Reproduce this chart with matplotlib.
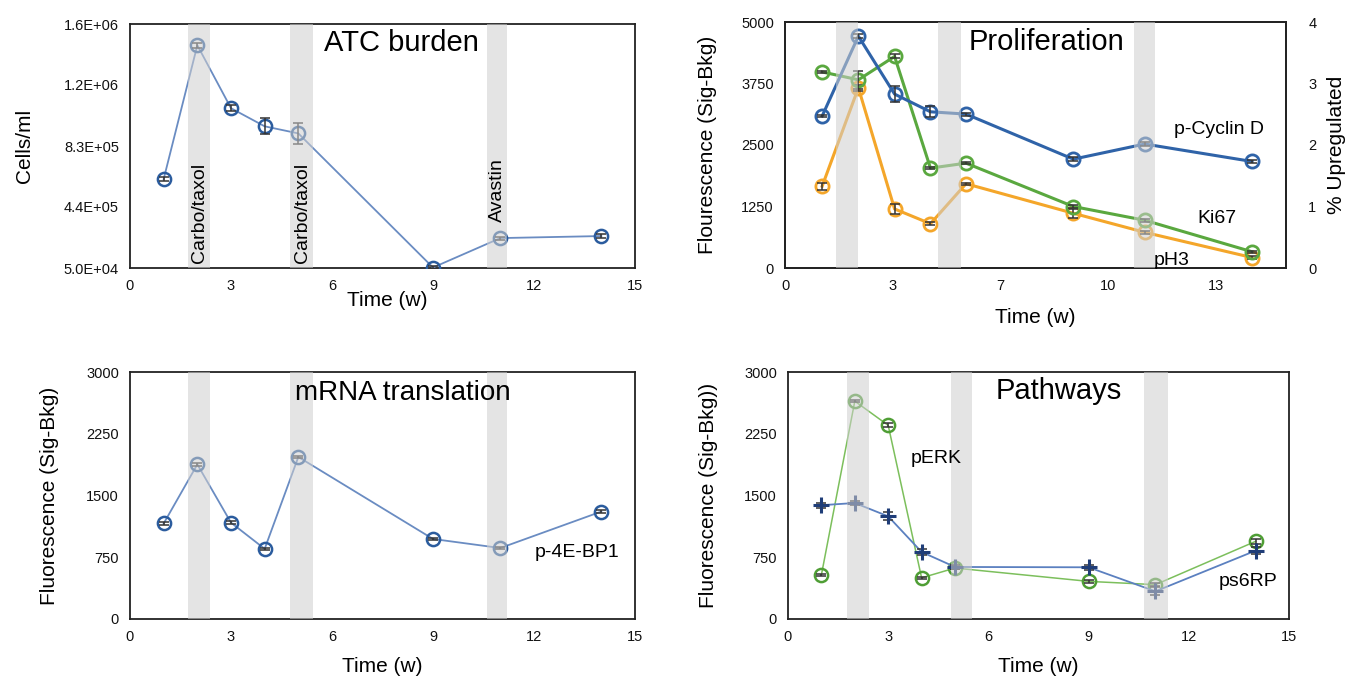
import numpy as np
import matplotlib
matplotlib.use('Agg')
import matplotlib.pyplot as plt

plt.rcParams['font.family'] = ['Liberation Sans', 'DejaVu Sans']

# ---------------- data ----------------
weeks = [1, 2, 3, 4, 5, 9, 11, 14]

# ATC burden
atc_cells = [6.15e5, 1.465e6, 1.065e6, 9.5e5, 9.05e5, 5.3e4, 2.4e5, 2.53e5]
atc_err = [1.2e4, 1.5e4, 2.0e4, 5.0e4, 6.5e4, 1.0e4, 1.0e4, 1.0e4]
atc_yticks = [5.0e4, 4.375e5, 8.25e5, 1.2125e6, 1.6e6]
atc_yticklabels = ['5.0E+04', '4.4E+05', '8.3E+05', '1.2E+06', '1.6E+06']
atc_bands = [(1.72, 2.38), (4.75, 5.45), (10.6, 11.2)]
treatments = ['Carbo/taxol', 'Carbo/taxol', 'Avastin']

# Proliferation (x axis of this panel in its own frame)
prolif_weeks = [1.15, 2.27, 3.39, 4.5, 5.6, 8.92, 11.13, 14.45]
prolif_xticks = [0, 10 / 3, 20 / 3, 10, 40 / 3]
prolif_xticklabels = ['0', '3', '7', '10', '13']
cyclin_d = [3089, 4712, 3535, 3175, 3128, 2212, 2520, 2165]
cyclin_d_err = [30, 40, 170, 110, 30, 40, 40, 30]
ki67 = [3985, 3825, 4300, 2030, 2131, 1250, 970, 330]
ki67_err = [25, 185, 40, 25, 25, 30, 25, 25]
ph3_pct = [1.33, 2.93, 0.96, 0.72, 1.37, 0.89, 0.58, 0.17]   # % upregulated
ph3_err = [0.06, 0.05, 0.08, 0.02, 0.02, 0.07, 0.02, 0.03]
prolif_bands = [(1.57, 2.27), (4.73, 5.44), (10.8, 11.46)]

# mRNA translation
p4ebp1 = [1160, 1878, 1170, 852, 1968, 972, 862, 1305]
p4ebp1_err = [15, 15, 15, 15, 15, 15, 15, 15]
mrna_bands = [(1.72, 2.38), (4.75, 5.45), (10.6, 11.2)]

# Pathways
perk = [536, 2646, 2352, 500, 619, 457, 417, 943]
perk_err = [15, 15, 25, 15, 15, 15, 15, 30]
ps6rp = [1382, 1409, 1247, 814, 632, 628, 336, 830]
ps6rp_err = [30, 20, 50, 40, 20, 30, 50, 40]
path_bands = [(1.76, 2.42), (4.87, 5.52), (10.67, 11.37)]

# ---------------- style ----------------
BLUE_M = '#2b5c9e'
BLUE_L = '#6a8cc2'
CYC = '#2f63a8'
GREEN = '#5aa83f'
ORANGE = '#f4a62a'
PERK_L = '#7cbf5c'
PERK_M = '#4f9e35'
S6_L = '#5b80c0'
S6_M = '#1f3d78'
ERR = '#333333'
BAND = '#cfcfcf'

TICK_FS = 10.5
LAB_FS = 15
TITLE_FS = 21
ANN_FS = 14

fig = plt.figure(figsize=(13.47, 6.82), dpi=100)


def add_axes(l, r, t, b):
    W, H = 1347.0, 682.0
    return fig.add_axes([l / W, 1 - b / H, (r - l) / W, (b - t) / H])


def style(ax):
    for s in ax.spines.values():
        s.set_linewidth(1.3)
        s.set_color('#222222')
    ax.tick_params(length=0, labelsize=TICK_FS, pad=8, colors='#111111')


def bands(ax, blist):
    for a, b in blist:
        ax.axvspan(a, b, color=BAND, alpha=0.55, lw=0, zorder=8)


def series(ax, x, y, err, lc, mc, lw, marker='o', ms=9.5, mew=1.8, z=3):
    ax.plot(x, y, color=lc, lw=lw, zorder=z)
    ax.errorbar(x, y, yerr=err, fmt='none', ecolor=ERR, elinewidth=1.1,
                capsize=3.5, capthick=1.1, zorder=z + 0.2)
    if marker == 'o':
        ax.plot(x, y, ls='none', marker='o', ms=ms, mfc='none', mec=mc,
                mew=mew, zorder=z + 0.1)
    else:
        ax.plot(x, y, ls='none', marker=marker, ms=ms, mec=mc, mew=mew,
                zorder=z + 0.3)


# ---------- ATC burden ----------
ax1 = add_axes(130, 635, 24, 268)
style(ax1)
series(ax1, weeks, atc_cells, atc_err, BLUE_L, BLUE_M, 1.3)
bands(ax1, atc_bands)
ax1.set_xlim(0, 15)
ax1.set_xticks(np.arange(0, 16, 3))
ax1.set_ylim(5.0e4, 1.6e6)
ax1.set_yticks(atc_yticks)
ax1.set_yticklabels(atc_yticklabels)
ax1.set_ylabel('Cells/ml', fontsize=LAB_FS)
ax1.yaxis.set_label_coords(-0.19, 0.5)
ax1.set_xlabel('Time (w)', fontsize=LAB_FS)
ax1.xaxis.set_label_coords(0.51, -0.093)
ax1.text(8.05, 1.48e6, 'ATC burden', fontsize=TITLE_FS, ha='center',
         va='center', zorder=10)
tx_y = [8.0e4, 8.0e4, 3.42e5]
for (a, b), lab, yy in zip(atc_bands, treatments, tx_y):
    ax1.text((a + b) / 2 + 0.02, yy, lab, rotation=90, fontsize=ANN_FS,
             ha='center', va='bottom', zorder=10)

# ---------- Proliferation ----------
ax2 = add_axes(785, 1286, 22, 268)
ax2r = ax2.twinx()
ax2r.set_zorder(ax2.get_zorder() - 1)
ax2.patch.set_visible(False)
style(ax2)
style(ax2r)
series(ax2r, prolif_weeks, ph3_pct, ph3_err, ORANGE, ORANGE, 2.2, mew=2.0)
series(ax2, prolif_weeks, ki67, ki67_err, GREEN, GREEN, 2.2, mew=2.0, z=3)
series(ax2, prolif_weeks, cyclin_d, cyclin_d_err, CYC, CYC, 2.2, mew=2.0, z=4)
bands(ax2, prolif_bands)
ax2.set_xlim(0, 15.5)
ax2.set_xticks(prolif_xticks)
ax2.set_xticklabels(prolif_xticklabels)
ax2.set_ylim(0, 5000)
ax2.set_yticks([0, 1250, 2500, 3750, 5000])
ax2r.set_ylim(0, 4)
ax2r.set_yticks([0, 1, 2, 3, 4])
ax2r.tick_params(pad=16)
ax2.set_ylabel('Flourescence (Sig-Bkg)', fontsize=LAB_FS)
ax2.yaxis.set_label_coords(-0.136, 0.5)
ax2r.set_ylabel('% Upregulated', fontsize=LAB_FS)
ax2r.yaxis.set_label_coords(1.082, 0.5)
ax2.set_xlabel('Time (w)', fontsize=LAB_FS)
ax2.xaxis.set_label_coords(0.5, -0.163)
ax2.text(8.08, 4593, 'Proliferation', fontsize=TITLE_FS, ha='center',
         va='center', zorder=10)
ax2.text(13.44, 2805, 'p-Cyclin D', fontsize=ANN_FS, ha='center',
         va='center', zorder=10)
ax2.text(13.37, 1016, 'Ki67', fontsize=ANN_FS, ha='center', va='center',
         zorder=10)
ax2.text(11.95, 160, 'pH3', fontsize=ANN_FS, ha='center', va='center',
         zorder=10)

# ---------- mRNA translation ----------
ax3 = add_axes(130, 635, 372, 619)
style(ax3)
series(ax3, weeks, p4ebp1, p4ebp1_err, BLUE_L, BLUE_M, 1.3)
bands(ax3, mrna_bands)
ax3.set_xlim(0, 15)
ax3.set_xticks(np.arange(0, 16, 3))
ax3.set_ylim(0, 3000)
ax3.set_yticks([0, 750, 1500, 2250, 3000])
ax3.set_ylabel('Fluorescence (Sig-Bkg)', fontsize=LAB_FS)
ax3.yaxis.set_label_coords(-0.14, 0.5)
ax3.set_xlabel('Time (w)', fontsize=LAB_FS)
ax3.xaxis.set_label_coords(0.5, -0.154)
ax3.text(8.1, 2745, 'mRNA translation', fontsize=TITLE_FS - 1, ha='center',
         va='center', zorder=10)
ax3.text(13.28, 802, 'p-4E-BP1', fontsize=ANN_FS, ha='center', va='center',
         zorder=10)

# ---------- Pathways ----------
ax4 = add_axes(788, 1289, 372, 619)
style(ax4)
series(ax4, weeks, perk, perk_err, PERK_L, PERK_M, 1.1, z=3)
series(ax4, weeks, ps6rp, ps6rp_err, S6_L, S6_M, 1.3, marker='+', ms=11,
       mew=2.2, z=4)
bands(ax4, path_bands)
ax4.set_xlim(0, 15)
ax4.set_xticks(np.arange(0, 16, 3))
ax4.set_ylim(0, 3000)
ax4.set_yticks([0, 750, 1500, 2250, 3000])
ax4.set_ylabel('Fluorescence (Sig-Bkg))', fontsize=LAB_FS)
ax4.yaxis.set_label_coords(-0.14, 0.5)
ax4.set_xlabel('Time (w)', fontsize=LAB_FS)
ax4.xaxis.set_label_coords(0.5, -0.154)
ax4.text(8.1, 2770, 'Pathways', fontsize=TITLE_FS, ha='center',
         va='center', zorder=10)
ax4.text(4.43, 1955, 'pERK', fontsize=ANN_FS, ha='center', va='center',
         zorder=10)
ax4.text(13.77, 461, 'ps6RP', fontsize=ANN_FS, ha='center', va='center',
         zorder=10)

fig.savefig('out.png', dpi=100)
